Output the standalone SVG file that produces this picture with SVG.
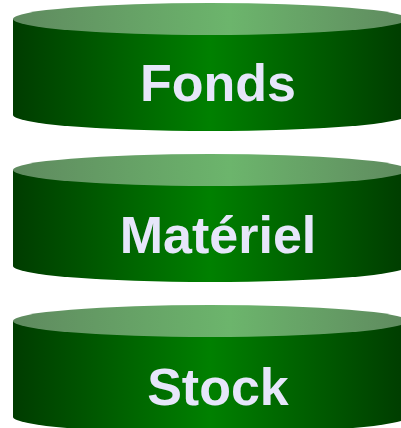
<svg xmlns="http://www.w3.org/2000/svg" width="401" height="428" viewBox="0 0 401 428">
  <defs>
    <!-- side wall: dark edges, bright middle -->
    <linearGradient id="side" x1="13" y1="0" x2="407" y2="0" gradientUnits="userSpaceOnUse">
      <stop offset="0" stop-color="#003c00"/>
      <stop offset="0.5" stop-color="#008000"/>
      <stop offset="1" stop-color="#003c00"/>
    </linearGradient>
    <!-- lid: pale green, lighter at the centre -->
    <linearGradient id="lid" x1="13" y1="0" x2="407" y2="0" gradientUnits="userSpaceOnUse">
      <stop offset="0" stop-color="#5f8a5f"/>
      <stop offset="0.55" stop-color="#6cb56c"/>
      <stop offset="1" stop-color="#5f8a5f"/>
    </linearGradient>
    <style>
      .wall { fill: url(#side); }
      .top { fill: url(#lid); }
      .label { font-family: "Liberation Sans", Arial, sans-serif; font-weight: bold; font-size: 52px; fill: #e6e6fa; text-anchor: middle; }
    </style>
  </defs>

  <g id="fonds">
    <path class="wall" d="M13,19 V115 A197,16 0 0 0 407,115 V19 Z"/>
    <ellipse class="top" cx="210" cy="19" rx="197" ry="16"/>
    <text class="label" x="218" y="101">Fonds</text>
  </g>

  <g id="materiel">
    <path class="wall" d="M13,170 V266 A197,16 0 0 0 407,266 V170 Z"/>
    <ellipse class="top" cx="210" cy="170" rx="197" ry="16"/>
    <text class="label" x="218" y="253">Matériel</text>
  </g>

  <g id="stock">
    <path class="wall" d="M13,321 V417 A197,16 0 0 0 407,417 V321 Z"/>
    <ellipse class="top" cx="210" cy="321" rx="197" ry="16"/>
    <text class="label" x="218" y="405">Stock</text>
  </g>

  <g id="connectors"/>
</svg>
